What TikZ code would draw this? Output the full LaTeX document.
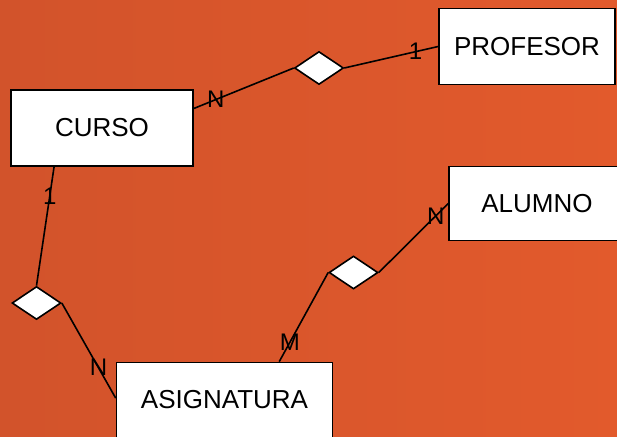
\documentclass[tikz,border=0pt]{standalone}
\usepackage{fontspec}
\setmainfont{Liberation Sans}
\usetikzlibrary{shapes.geometric}
\definecolor{bgleft}{HTML}{D2532B}
\definecolor{bgright}{HTML}{E25A2C}
\begin{document}
\begin{tikzpicture}[x = 1pt, y = -1pt, line width = 1.6pt,
                entidad/.style = {draw, fill = white, inner sep = 0pt, font = \fontsize{26}{30}\selectfont},
                relacion/.style = {draw, fill = white, diamond, inner sep = 0pt, minimum width = 49pt, minimum height = 33pt},
                card/.style = {inner sep = 0pt, font = \fontsize{24}{28}\selectfont}]
                \useasboundingbox (0, 0) rectangle (617, 436);
                \fill[left color = bgleft, right color = bgright] (0, 0) rectangle (617, 436);
                \node[entidad, minimum width = 182pt, minimum height = 76pt] (curso) at (102, 128) {CURSO};
                \node[entidad, minimum width = 176pt, minimum height = 76pt] (profesor) at (527, 46.5) {PROFESOR};
                \node[entidad, minimum width = 176pt, minimum height = 74pt] (alumno) at (537, 203.5) {ALUMNO};
                \node[entidad, minimum width = 216pt, minimum height = 75pt] (asignatura) at (224.5, 400) {ASIGNATURA};
                \node[relacion] (imparte) at (319, 68) {};
                \node[relacion] (pertenece) at (36.5, 303) {};
                \node[relacion] (matricula) at (353.5, 272.5) {};
                \draw (curso.12.4) -- node[card, pos = 0.22]{N} (imparte.west);
                \draw (imparte.east) -- node[card, pos = 0.76]{1} (profesor.west);
                \draw (curso.219) -- node[card, pos = 0.25]{1} (pertenece.north);
                \draw (pertenece.east) -- node[card, pos = 0.68]{N} (asignatura.179);
                \draw (asignatura.35) -- node[card, pos = 0.22]{M} (matricula.west);
                \draw (matricula.east) -- node[card, pos = 0.82]{N} (alumno.west);
            \end{tikzpicture}
\end{document}
